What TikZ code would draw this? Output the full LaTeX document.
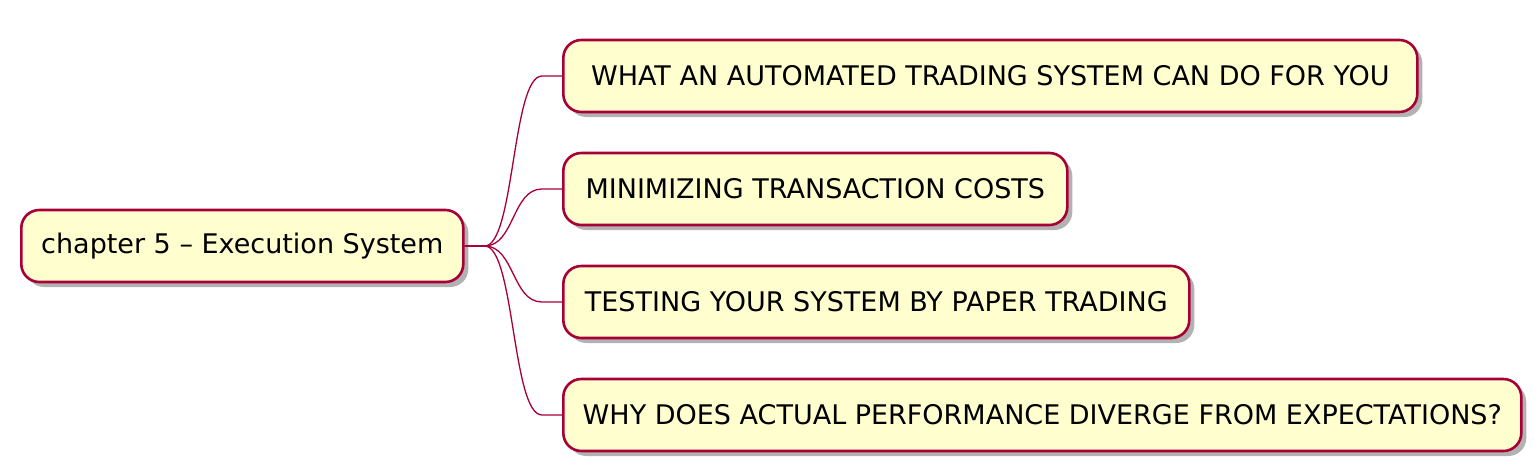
\documentclass[tikz,border=0pt]{standalone}
\usepackage{fontspec}
\setmainfont{DejaVu Sans}
\usepackage{tikz}
\usetikzlibrary{shadows}
\definecolor{boxfill}{HTML}{FEFECE}
\definecolor{boxline}{HTML}{A80036}

\begin{document}
\begin{tikzpicture}[x=1pt, y=-1pt,
  topic/.style={draw=boxline, line width=2.6pt, fill=boxfill, rounded corners=18pt,
    minimum height=72pt, inner xsep=10pt, anchor=west, font=\fontsize{27}{32}\selectfont,
    drop shadow={shadow xshift=5pt, shadow yshift=-5pt, fill=black!55, opacity=0.55}},
  branch/.style={draw=boxline, line width=1.3pt}]
  \useasboundingbox (0,0) rectangle (1540,471);
  % root
  \node[topic, minimum width=442pt] (root) at (20,246) {chapter 5 – Execution System};
  % children
  \node[topic, minimum width=854pt] (c1) at (562,76) {WHAT AN AUTOMATED TRADING SYSTEM CAN DO FOR YOU};
  \node[topic, minimum width=504pt] (c2) at (562,189) {MINIMIZING TRANSACTION COSTS};
  \node[topic, minimum width=626pt] (c3) at (562,302) {TESTING YOUR SYSTEM BY PAPER TRADING};
  \node[topic, minimum width=958pt] (c4) at (562,415) {WHY DOES ACTUAL PERFORMANCE DIVERGE FROM EXPECTATIONS?};
  % connectors
  \foreach \c in {c1,c2,c3,c4}
    \draw[branch] (root.east) -- ++(20,0) .. controls +(30,0) and ([xshift=-50pt]\c.west) .. ([xshift=-20pt]\c.west) -- (\c.west);
\end{tikzpicture}
\end{document}
